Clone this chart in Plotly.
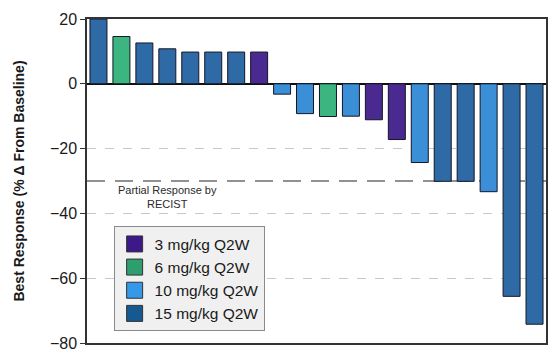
import plotly.graph_objects as go

patients = list(range(1, 21))
responses = [20, 14.6, 12.6, 10.8, 9.8, 9.8, 9.8, 9.8, -3.2, -9.2, -10.1, -10.0,
             -11.1, -17.2, -24.3, -30.1, -30.1, -33.3, -65.6, -74.2]
doses = ["15", "6", "15", "15", "15", "15", "15", "3", "10", "10", "6", "10",
         "3", "3", "10", "15", "15", "10", "15", "15"]
dose_labels = ["3 mg/kg Q2W", "6 mg/kg Q2W", "10 mg/kg Q2W", "15 mg/kg Q2W"]
dose_keys = ["3", "6", "10", "15"]
bar_colors = {"3": "#4a2a90", "6": "#3db580", "10": "#3b8fd6", "15": "#2e6aa6"}
legend_colors = {"3": "#3c1888", "6": "#2e9e6e", "10": "#3399e8", "15": "#155993"}
y_ticks = [-80, -60, -40, -20, 0, 20]
pr_threshold = -30

fig = go.Figure()
fig.add_trace(go.Bar(
    x=patients, y=responses,
    marker=dict(color=[bar_colors[d] for d in doses],
                line=dict(color="#161624", width=1)),
    width=0.74, showlegend=False, hoverinfo="y",
))
for k, lab in zip(dose_keys, dose_labels):
    fig.add_trace(go.Scatter(
        x=[None], y=[None], mode="markers", name=lab,
        marker=dict(symbol="square", size=19, color=legend_colors[k],
                    line=dict(color="#333333", width=1)),
    ))

fig.add_shape(type="line", xref="paper", x0=0, x1=1, yref="y",
              y0=pr_threshold, y1=pr_threshold,
              line=dict(color="#6e6e6e", width=1.5, dash="18px,10px"), layer="below")
fig.add_annotation(x=4.0, y=-35.0, text="Partial Response by<br>RECIST",
                   showarrow=False, xref="x", yref="y",
                   font=dict(family="Arial, Liberation Sans", size=11, color="#2a2a2a"))

fig.update_layout(
    width=558, height=355,
    margin=dict(l=87, r=12, t=19, b=12, autoexpand=False),
    plot_bgcolor="white", paper_bgcolor="white",
    font=dict(family="Arial, Liberation Sans", color="#1a1a1a"),
    legend=dict(x=0.058, y=0.36, xanchor="left", yanchor="top",
                bgcolor="#f0f0f0", bordercolor="#8a8a8a", borderwidth=1,
                font=dict(size=15.5, color="#1a1a1a"), itemwidth=30,
                tracegroupgap=0),
    xaxis=dict(range=[0.5, 20.5], showticklabels=False, ticks="",
               showgrid=False, zeroline=False, showline=True,
               linecolor="#333333", linewidth=1.5, mirror=True),
    yaxis=dict(range=[-80, 20], tickvals=y_ticks, ticks="outside", ticklen=5,
               tickcolor="#333333", tickfont=dict(size=16, color="#1a1a1a"),
               showgrid=True, gridcolor="#c8c8c8", griddash="dash", gridwidth=1,
               zeroline=True, zerolinecolor="#111111", zerolinewidth=1.5,
               showline=True, linecolor="#333333", linewidth=1.5, mirror=True,
               title=dict(text="<b>Best Response (% Δ From Baseline)</b>",
                          font=dict(size=14, color="#1a1a1a"), standoff=22)),
)

fig.write_html("out.html", config={"displayModeBar": False},
               post_script="document.body.style.margin='0px';")
